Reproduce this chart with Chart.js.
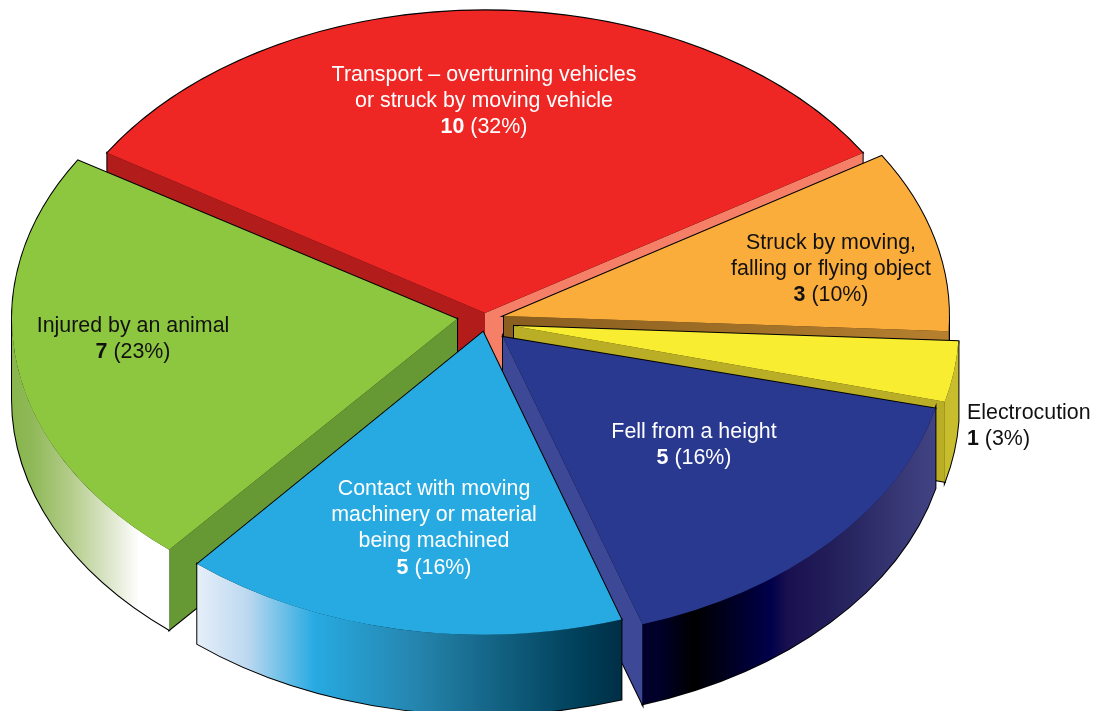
<!DOCTYPE html>
<html>
<head>
<meta charset="utf-8">
<title>Fatal injuries by cause</title>
<script src="https://cdn.jsdelivr.net/npm/chart.js@4"></script>
<style>
  html, body { margin: 0; background: #fff; }
  canvas { display: block; }
</style>
</head>
<body>
<canvas id="pie" width="1105" height="711"></canvas>
<script>
const categories = [
  ['Transport – overturning vehicles', 'or struck by moving vehicle'],
  ['Struck by moving,', 'falling or flying object'],
  ['Electrocution'],
  ['Fell from a height'],
  ['Contact with moving', 'machinery or material', 'being machined'],
  ['Injured by an animal']
];
const counts = [10, 3, 1, 5, 5, 7];
const percents = [32, 10, 3, 16, 16, 23];

const topColors = ['#ee2724', '#fbad3c', '#f8ed31', '#2a3990', '#27aae1', '#8dc63f'];

// look of the 3d pie
const squash = 0.68;
const depth = 80;
const pieRadius = 445;
const paintOrder = [0, 5, 1, 2, 3, 4];
const shifts = [[0, -9], [19, -6], [29, 4], [18, 15], [-2, 10], [-28, -3]];
// the original is drawn a little off true, degrees per slice
const spins = [0, 0, 0, -0.85, -0.7, -0.35];

// colour of the cut faces of each slice (start edge, end edge), null = hidden
const cutColors = [
  ['#b21c1a', '#f67f68'],
  [null, { x0: 506, x1: 948, stops: [[0, '#8a5f20'], [1, '#b8812f']] }],
  [null, '#b9ae25'],
  [null, '#3d4896'],
  [null, null],
  ['#669933', null]
];
const rimColors = [
  null,
  { x0: 900, x1: 950, stops: [[0, '#b8812f'], [1, '#b8812f']] },
  { x0: 945, x1: 958, stops: [[0, '#c8bd2c'], [1, '#bdb224']] },
  { x0: 641, x1: 935, stops: [[0, '#00002a'], [0.12, '#000000'], [0.38, '#00004a'], [0.44, '#1a1050'], [0.61, '#24215c'], [0.84, '#3a3a78'], [1, '#454888']] },
  { x0: 199, x1: 620, stops: [[0, '#e6eff9'], [0.12, '#bcd8f0'], [0.28, '#27aae1'], [0.52, '#2585ae'], [0.68, '#16688a'], [0.91, '#003f59'], [1, '#003048']] },
  { x0: 12, x1: 172, stops: [[0, '#7db03c'], [0.3, '#8fb958'], [0.55, '#b5cd8c'], [0.8, '#dfe8cf'], [0.97, '#ffffff'], [1, '#ffffff']] }
];

const labelAnchors = [[484, 75], [831, 243], [967, 413], [694, 432], [434, 489], [133, 326]];
const labelColors = ['#fff', '#111', '#111', '#fff', '#fff', '#111'];
const labelAligns = ['center', 'center', 'left', 'center', 'center', 'center'];
const lineGap = 26.3;
const fontSize = 21.4;
const fontName = '"Liberation Sans", Arial, sans-serif';

function paint(ctx, spec) {
  if (!spec || typeof spec === 'string') return spec;
  const g = ctx.createLinearGradient(spec.x0, 0, spec.x1, 0);
  spec.stops.forEach(s => g.addColorStop(s[0], s[1]));
  return g;
}

function cutPath(ctx, x, y, r, a) {
  const ex = x + Math.cos(a) * r;
  const ey = y + Math.sin(a) * r * squash;
  ctx.beginPath();
  ctx.moveTo(x, y);
  ctx.lineTo(ex, ey);
  ctx.lineTo(ex, ey + depth);
  ctx.lineTo(x, y + depth);
  ctx.closePath();
}

function rimPath(ctx, x, y, r, a, b) {
  ctx.beginPath();
  ctx.ellipse(x, y, r, r * squash, 0, a, b);
  ctx.ellipse(x, y + depth, r, r * squash, 0, b, a, true);
  ctx.closePath();
}

const pie3d = {
  id: 'pie3d',
  beforeDatasetDraw(chart, args) {
    const ctx = chart.ctx;
    const arcs = args.meta.data;
    paintOrder.forEach(i => {
      const arc = arcs[i];
      const { x, y, outerRadius: r } = arc;
      const spin = spins[i] * Math.PI / 180;
      const startAngle = arc.startAngle + spin;
      const endAngle = arc.endAngle + spin;
      const from = Math.max(startAngle, 0);
      const to = Math.min(endAngle, Math.PI);
      const hasRim = to > from && rimColors[i];
      const edges = [startAngle, endAngle];

      ctx.save();
      ctx.translate(shifts[i][0], shifts[i][1]);

      // black outline first, the fills then leave only the outer half of it
      ctx.strokeStyle = '#000';
      ctx.lineWidth = 2;
      ctx.lineJoin = 'miter';
      edges.forEach((a, n) => {
        if (cutColors[i][n]) { cutPath(ctx, x, y, r, a); ctx.stroke(); }
      });
      if (hasRim) { rimPath(ctx, x, y, r, from, to); ctx.stroke(); }
      ctx.beginPath();
      ctx.moveTo(x, y);
      ctx.ellipse(x, y, r, r * squash, 0, startAngle, endAngle);
      ctx.closePath();
      ctx.stroke();

      edges.forEach((a, n) => {
        if (!cutColors[i][n]) return;
        ctx.fillStyle = paint(ctx, cutColors[i][n]);
        cutPath(ctx, x, y, r, a);
        ctx.fill();
      });
      if (hasRim) {
        ctx.fillStyle = paint(ctx, rimColors[i]);
        rimPath(ctx, x, y, r, from, to);
        ctx.fill();
      }

      // top face, squashed flat
      ctx.translate(x, y);
      ctx.scale(1, squash);
      ctx.rotate(spin);
      ctx.translate(-x, -y);
      arc.draw(ctx);
      ctx.restore();
    });
    return false;
  },
  afterDatasetsDraw(chart) {
    const ctx = chart.ctx;
    ctx.save();
    ctx.textBaseline = 'middle';
    ctx.textAlign = 'left';
    categories.forEach((lines, i) => {
      const [ax, ay] = labelAnchors[i];
      ctx.fillStyle = labelColors[i];
      const place = w => labelAligns[i] === 'center' ? ax - w / 2 : ax;
      ctx.font = fontSize + 'px ' + fontName;
      lines.forEach((line, n) => {
        ctx.fillText(line, place(ctx.measureText(line).width), ay + n * lineGap);
      });
      const rest = ' (' + percents[i] + '%)';
      const restWidth = ctx.measureText(rest).width;
      ctx.font = 'bold ' + fontSize + 'px ' + fontName;
      const num = String(counts[i]);
      const numWidth = ctx.measureText(num).width;
      const left = place(numWidth + restWidth);
      const lastY = ay + lines.length * lineGap;
      ctx.fillText(num, left, lastY);
      ctx.font = fontSize + 'px ' + fontName;
      ctx.fillText(rest, left + numWidth, lastY);
    });
    ctx.restore();
  }
};

new Chart(document.getElementById('pie').getContext('2d'), {
  type: 'pie',
  data: {
    labels: categories.map(l => l.join(' ')),
    datasets: [{
      data: counts,
      backgroundColor: topColors,
      borderWidth: 0
    }]
  },
  options: {
    responsive: false,
    animation: false,
    radius: pieRadius,
    rotation: -counts[0] / counts.reduce((a, b) => a + b, 0) * 180,
    layout: { padding: { left: 0, top: 0, right: 135, bottom: 67 } },
    plugins: { legend: { display: false }, tooltip: { enabled: false } }
  },
  plugins: [pie3d]
});
</script>
</body>
</html>
